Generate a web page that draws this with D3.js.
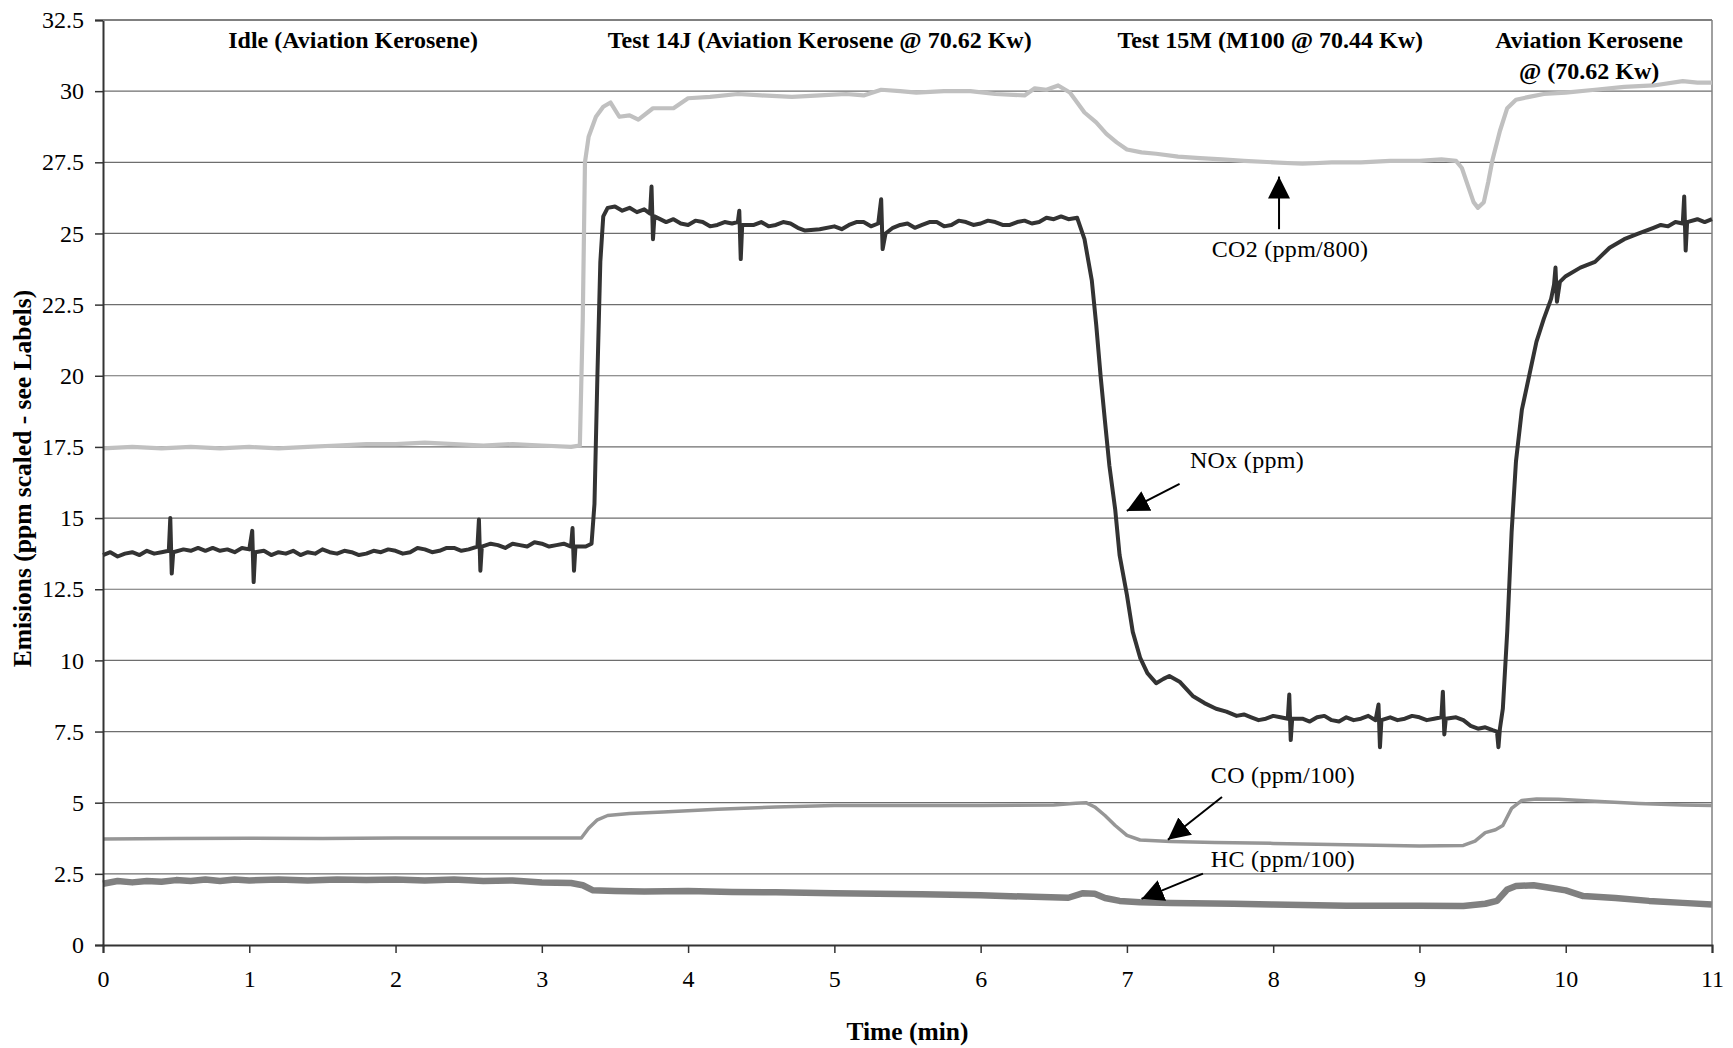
<!DOCTYPE html>
<html>
<head>
<meta charset="utf-8">
<script src="https://cdn.jsdelivr.net/npm/d3@7"></script>
<style>
  body { margin: 0; background: #fff; }
  text { font-family: "Liberation Serif", "Times New Roman", serif; fill: #000; }
</style>
</head>
<body>
<div id="chart"></div>
<script>
// time (min), value
const co2 = [[0,17.45],[0.2,17.5],[0.4,17.45],[0.6,17.5],[0.8,17.45],[1.0,17.5],[1.2,17.45],[1.4,17.5],[1.6,17.55],[1.8,17.6],[2.0,17.6],[2.2,17.65],[2.4,17.6],[2.6,17.55],[2.8,17.6],[3.0,17.55],[3.2,17.5],[3.26,17.55],[3.28,22.0],[3.295,27.5],[3.32,28.4],[3.37,29.1],[3.42,29.45],[3.47,29.6],[3.53,29.1],[3.6,29.15],[3.66,29.0],[3.76,29.4],[3.9,29.4],[4.0,29.75],[4.15,29.8],[4.34,29.9],[4.5,29.85],[4.71,29.8],[4.9,29.85],[5.08,29.9],[5.2,29.85],[5.32,30.05],[5.45,30.0],[5.56,29.95],[5.75,30.0],[5.93,30.0],[6.1,29.9],[6.3,29.85],[6.37,30.1],[6.45,30.05],[6.53,30.2],[6.61,29.95],[6.71,29.25],[6.79,28.9],[6.86,28.5],[6.93,28.2],[7.0,27.95],[7.1,27.85],[7.2,27.8],[7.35,27.7],[7.5,27.65],[7.65,27.6],[7.8,27.55],[8.0,27.5],[8.2,27.45],[8.4,27.5],[8.6,27.5],[8.8,27.55],[9.0,27.55],[9.15,27.6],[9.25,27.55],[9.29,27.3],[9.33,26.7],[9.37,26.1],[9.4,25.9],[9.44,26.1],[9.47,26.8],[9.5,27.6],[9.55,28.6],[9.6,29.4],[9.66,29.7],[9.75,29.8],[9.85,29.9],[10.0,29.95],[10.2,30.05],[10.4,30.15],[10.6,30.2],[10.8,30.35],[10.9,30.3],[11.0,30.3]];

const nox = [[0,13.7],[0.05,13.8],[0.1,13.65],[0.15,13.75],[0.2,13.8],[0.25,13.7],[0.3,13.85],[0.35,13.75],[0.4,13.8],[0.45,13.85],[0.46,15.0],[0.47,13.05],[0.48,13.8],[0.55,13.9],[0.6,13.85],[0.65,13.95],[0.7,13.85],[0.75,13.95],[0.8,13.85],[0.85,13.9],[0.9,13.8],[0.95,13.95],[1.0,13.9],[1.02,14.55],[1.03,12.75],[1.04,13.8],[1.1,13.85],[1.15,13.7],[1.2,13.8],[1.25,13.75],[1.3,13.85],[1.35,13.7],[1.4,13.8],[1.45,13.75],[1.5,13.9],[1.55,13.8],[1.6,13.75],[1.65,13.85],[1.7,13.8],[1.75,13.7],[1.8,13.75],[1.85,13.85],[1.9,13.8],[1.95,13.9],[2.0,13.85],[2.05,13.75],[2.1,13.8],[2.15,13.95],[2.2,13.9],[2.25,13.8],[2.3,13.85],[2.35,13.95],[2.4,13.95],[2.45,13.85],[2.5,13.9],[2.56,14.0],[2.57,14.95],[2.58,13.15],[2.59,14.0],[2.65,14.1],[2.7,14.05],[2.75,13.95],[2.8,14.1],[2.85,14.05],[2.9,14.0],[2.95,14.15],[3.0,14.1],[3.05,14.0],[3.1,14.05],[3.15,14.1],[3.2,14.0],[3.21,14.65],[3.22,13.15],[3.23,14.0],[3.3,14.0],[3.34,14.1],[3.36,15.5],[3.38,20.0],[3.4,24.0],[3.42,25.6],[3.45,25.9],[3.5,25.95],[3.55,25.8],[3.6,25.9],[3.65,25.75],[3.7,25.85],[3.74,25.7],[3.75,26.65],[3.76,24.8],[3.77,25.6],[3.85,25.4],[3.9,25.5],[3.95,25.35],[4.0,25.3],[4.05,25.45],[4.1,25.4],[4.15,25.25],[4.2,25.3],[4.25,25.4],[4.3,25.35],[4.34,25.4],[4.35,25.8],[4.36,24.1],[4.37,25.3],[4.45,25.3],[4.5,25.4],[4.55,25.25],[4.6,25.3],[4.65,25.4],[4.7,25.35],[4.75,25.2],[4.8,25.1],[4.9,25.15],[5.0,25.25],[5.05,25.15],[5.1,25.3],[5.15,25.4],[5.2,25.4],[5.25,25.25],[5.3,25.35],[5.32,26.2],[5.33,24.45],[5.35,25.0],[5.4,25.2],[5.45,25.3],[5.5,25.35],[5.55,25.2],[5.6,25.3],[5.65,25.4],[5.7,25.4],[5.75,25.25],[5.8,25.3],[5.85,25.45],[5.9,25.4],[5.95,25.3],[6.0,25.35],[6.05,25.45],[6.1,25.4],[6.15,25.3],[6.2,25.3],[6.25,25.4],[6.3,25.45],[6.35,25.35],[6.4,25.4],[6.45,25.55],[6.5,25.5],[6.55,25.6],[6.6,25.5],[6.66,25.55],[6.71,24.8],[6.76,23.35],[6.79,21.8],[6.82,20.0],[6.85,18.4],[6.88,16.85],[6.92,15.3],[6.95,13.7],[7.0,12.3],[7.04,11.0],[7.09,10.1],[7.14,9.55],[7.2,9.2],[7.25,9.35],[7.29,9.45],[7.36,9.25],[7.45,8.75],[7.53,8.5],[7.61,8.3],[7.68,8.2],[7.75,8.05],[7.8,8.1],[7.85,8.0],[7.9,7.9],[7.95,7.95],[8.0,8.05],[8.05,8.0],[8.1,7.95],[8.11,8.8],[8.12,7.2],[8.13,7.95],[8.2,7.95],[8.25,7.85],[8.3,8.0],[8.35,8.05],[8.4,7.9],[8.45,7.85],[8.5,8.0],[8.55,7.9],[8.6,7.95],[8.65,8.05],[8.7,7.9],[8.72,8.45],[8.73,6.95],[8.74,7.9],[8.8,8.0],[8.85,7.9],[8.9,7.95],[8.95,8.05],[9.0,8.0],[9.05,7.9],[9.1,7.95],[9.15,8.0],[9.16,8.9],[9.17,7.4],[9.18,7.95],[9.25,8.0],[9.3,7.9],[9.35,7.7],[9.4,7.6],[9.45,7.65],[9.5,7.55],[9.53,7.5],[9.54,6.95],[9.55,7.6],[9.57,8.3],[9.6,11.0],[9.63,14.5],[9.66,17.0],[9.7,18.8],[9.75,20.0],[9.8,21.2],[9.85,22.0],[9.9,22.7],[9.92,23.2],[9.93,23.8],[9.94,22.6],[9.96,23.3],[10.0,23.5],[10.1,23.8],[10.2,24.0],[10.3,24.5],[10.4,24.8],[10.5,25.0],[10.6,25.2],[10.65,25.3],[10.7,25.25],[10.75,25.4],[10.8,25.35],[10.81,26.3],[10.82,24.4],[10.83,25.4],[10.9,25.5],[10.95,25.4],[11.0,25.5]];

const co = [[0,3.72],[0.5,3.74],[1,3.75],[1.5,3.74],[2,3.76],[2.5,3.76],[3,3.76],[3.27,3.76],[3.32,4.1],[3.38,4.4],[3.45,4.55],[3.6,4.62],[3.83,4.67],[4.2,4.77],[4.6,4.85],[5.0,4.9],[5.5,4.9],[6.0,4.9],[6.5,4.92],[6.65,4.98],[6.72,5.0],[6.78,4.85],[6.85,4.55],[6.92,4.2],[7.0,3.85],[7.09,3.69],[7.3,3.64],[7.6,3.6],[8.0,3.57],[8.5,3.52],[9.0,3.48],[9.3,3.5],[9.38,3.65],[9.45,3.95],[9.52,4.05],[9.57,4.2],[9.63,4.8],[9.7,5.08],[9.8,5.13],[9.95,5.12],[10.2,5.05],[10.5,4.97],[10.8,4.92],[11,4.9]];

const hc = [[0,2.15],[0.1,2.25],[0.2,2.2],[0.3,2.25],[0.4,2.22],[0.5,2.28],[0.6,2.25],[0.7,2.3],[0.8,2.25],[0.9,2.3],[1.0,2.27],[1.2,2.3],[1.4,2.27],[1.6,2.3],[1.8,2.28],[2.0,2.3],[2.2,2.27],[2.4,2.3],[2.6,2.25],[2.8,2.27],[3.0,2.2],[3.2,2.18],[3.28,2.1],[3.35,1.92],[3.5,1.9],[3.7,1.88],[4.0,1.9],[4.3,1.86],[4.6,1.85],[5.0,1.82],[5.3,1.8],[5.6,1.78],[6.0,1.75],[6.3,1.7],[6.6,1.66],[6.7,1.82],[6.78,1.8],[6.85,1.65],[6.95,1.55],[7.09,1.5],[7.3,1.48],[7.73,1.45],[8.0,1.42],[8.5,1.38],[9.0,1.38],[9.3,1.37],[9.45,1.45],[9.53,1.55],[9.6,1.95],[9.66,2.07],[9.78,2.1],[9.9,2.0],[10.0,1.92],[10.12,1.72],[10.34,1.65],[10.57,1.55],[10.8,1.48],[11,1.42]];

const yTicks = d3.range(0, 32.6, 2.5);
const xTicks = d3.range(0, 12, 1);

const phases = [
  { t: 1.71, lines: ['Idle (Aviation Kerosene)'] },
  { t: 4.9,  lines: ['Test 14J (Aviation Kerosene @ 70.62 Kw)'] },
  { t: 7.98, lines: ['Test 15M (M100 @ 70.44 Kw)'] },
  { t: 10.16, lines: ['Aviation Kerosene', '@ (70.62 Kw)'] }
];

const width = 1733;
const height = 1048;
const margin = {top: 20, bottom: 103, left: 103, right: 21};

const svg = d3.select('#chart')
  .append('svg')
  .attr('width', width)
  .attr('height', height);

const x = d3.scaleLinear()
  .domain([0, 11])
  .range([margin.left, width - margin.right]);

const y = d3.scaleLinear()
  .domain([0, 32.5])
  .range([height - margin.bottom, margin.top]);

// gridlines
svg.append('g')
  .selectAll('line')
  .data(yTicks.filter(d => d > 0))
  .join('line')
    .attr('x1', x(0)).attr('x2', x(11))
    .attr('y1', d => y(d)).attr('y2', d => y(d))
    .attr('stroke', '#6e6e6e')
    .attr('stroke-width', 1.2);

// right border
svg.append('line')
  .attr('x1', x(11)).attr('x2', x(11))
  .attr('y1', y(32.5)).attr('y2', y(0))
  .attr('stroke', '#808080')
  .attr('stroke-width', 1.5);

const line = d3.line().x(d => x(d[0])).y(d => y(d[1]));

const series = [
  { data: co2, color: '#c0c0c0', w: 4.2 },
  { data: co,  color: '#969696', w: 3.5 },
  { data: hc,  color: '#808080', w: 6.5 },
  { data: nox, color: '#333333', w: 4 }
];

svg.append('g')
  .selectAll('path')
  .data(series)
  .join('path')
    .attr('d', d => line(d.data))
    .attr('fill', 'none')
    .attr('stroke', d => d.color)
    .attr('stroke-width', d => d.w)
    .attr('stroke-linejoin', 'round');

// axes
function yAxis(g) {
  g.attr('transform', `translate(${x(0)},0)`)
    .call(d3.axisLeft(y).tickValues(yTicks).tickSize(8).tickPadding(11).tickFormat(d => d))
    .attr('font-size', '24px')
    .attr('font-family', '"Liberation Serif", serif');
  g.select('.domain').attr('stroke', '#333').attr('stroke-width', 2);
  g.selectAll('.tick line').attr('stroke', '#333').attr('stroke-width', 1.5);
}

function xAxis(g) {
  g.attr('transform', `translate(0,${y(0)})`)
    .call(d3.axisBottom(x).tickValues(xTicks).tickSize(8).tickPadding(17).tickFormat(d => d))
    .attr('font-size', '24px')
    .attr('font-family', '"Liberation Serif", serif');
  g.select('.domain').attr('stroke', '#333').attr('stroke-width', 2);
  g.selectAll('.tick line').attr('stroke', '#333').attr('stroke-width', 1.5);
}

svg.append('g').call(yAxis);
svg.append('g').call(xAxis);

// top border
svg.append('line')
  .attr('x1', x(0)).attr('x2', x(11))
  .attr('y1', y(32.5)).attr('y2', y(32.5))
  .attr('stroke', '#808080')
  .attr('stroke-width', 2);

// axis titles
svg.append('text')
  .attr('x', (x(0) + x(11)) / 2)
  .attr('y', 1040)
  .attr('text-anchor', 'middle')
  .attr('font-weight', 'bold')
  .attr('font-size', '25.5px')
  .text('Time (min)');

svg.append('text')
  .attr('transform', `translate(31,${(y(0) + y(32.5)) / 2 - 4}) rotate(-90)`)
  .attr('text-anchor', 'middle')
  .attr('font-weight', 'bold')
  .attr('font-size', '25.5px')
  .text('Emisions (ppm scaled - see Labels)');

// phase headings
const ph = svg.append('g')
  .attr('font-weight', 'bold')
  .attr('font-size', '24px')
  .attr('text-anchor', 'middle');
phases.forEach(p => {
  p.lines.forEach((s, i) => {
    ph.append('text')
      .attr('x', x(p.t))
      .attr('y', 48 + i * 31)
      .text(s);
  });
});

// arrow annotations
svg.append('defs').append('marker')
  .attr('id', 'head')
  .attr('markerUnits', 'userSpaceOnUse')
  .attr('viewBox', '0 0 20 20')
  .attr('refX', 20).attr('refY', 10)
  .attr('markerWidth', 22).attr('markerHeight', 22)
  .attr('orient', 'auto')
  .append('path')
    .attr('d', 'M0,0 L20,10 L0,20 Z')
    .attr('fill', '#000');

const notes = [
  { label: 'CO2 (ppm/800)', tx: 1290, ty: 257, from: [8.04, 25.15], to: [8.04, 27.0] },
  { label: 'NOx (ppm)', tx: 1247, ty: 468, from: [7.36, 16.2], to: [6.999, 15.25] },
  { label: 'CO (ppm/100)', tx: 1283, ty: 783, from: [7.65, 5.2], to: [7.28, 3.7] },
  { label: 'HC (ppm/100)', tx: 1283, ty: 867, from: [7.52, 2.51], to: [7.1, 1.62] }
];

const ng = svg.append('g');
notes.forEach(n => {
  ng.append('line')
    .attr('x1', x(n.from[0])).attr('y1', y(n.from[1]))
    .attr('x2', x(n.to[0])).attr('y2', y(n.to[1]))
    .attr('stroke', '#000')
    .attr('stroke-width', 2)
    .attr('marker-end', 'url(#head)');
  ng.append('text')
    .attr('x', n.tx)
    .attr('y', n.ty)
    .attr('text-anchor', 'middle')
    .attr('font-size', '24px')
    .attr('letter-spacing', '0.3px')
    .text(n.label);
});
</script>
</body>
</html>
